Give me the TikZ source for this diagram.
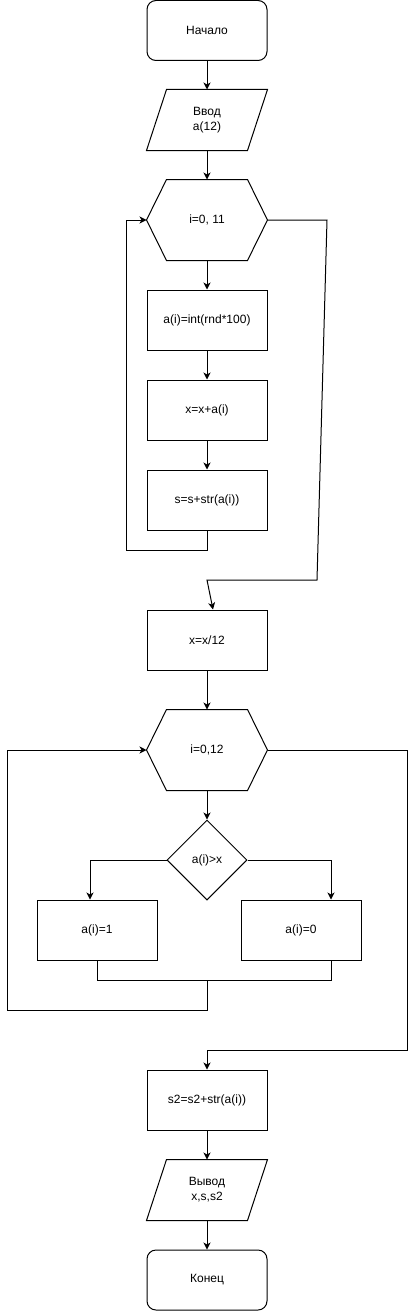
\documentclass[tikz,border=0pt]{standalone}
\usepackage{fontspec}
\setmainfont{Liberation Sans}
\usetikzlibrary{
	positioning,
	calc,
	arrows.meta,
	shapes.geometric
}

\begin{document}
\begin{tikzpicture}[
		x=1pt, y=-1pt,
		line width=1pt,
		font=\fontsize{12}{15}\selectfont,
		framed/.style={minimum width=120pt, minimum height=60pt, inner sep=0pt, align=center},
		process/.style={framed, draw},
		terminal/.style={process, rounded corners=9pt},
		io/.style={framed, append after command={\pgfextra{
			\draw ([xshift=20pt]\tikzlastnode.north west) -- (\tikzlastnode.north east)
				-- ([xshift=-20pt]\tikzlastnode.south east) -- (\tikzlastnode.south west) -- cycle;}}},
		cyclebox/.style={framed, minimum height=80pt, append after command={\pgfextra{
			\draw (\tikzlastnode.west) -- ([xshift=20pt]\tikzlastnode.north west)
				-- ([xshift=-20pt]\tikzlastnode.north east) -- (\tikzlastnode.east)
				-- ([xshift=-20pt]\tikzlastnode.south east) -- ([xshift=20pt]\tikzlastnode.south west) -- cycle;}}},
		decision/.style={diamond, draw, minimum width=80pt, minimum height=80pt, inner sep=0pt},
		flow/.style={-{Stealth[length=7pt, width=7pt, inset=2pt]}}
	]
		\useasboundingbox (0,0) rectangle (416,1311);

		\node[terminal] at(207,30.5) (start) {Начало};
		\node[io] at(207,120) (input) {Ввод\\a(12)};
		\node[cyclebox] at(207,220) (loopa) {i=0, 11};
		\node[process] at(207,320) (fill) {a(i)=int(rnd*100)};
		\node[process] at(207,410) (sum) {x=x+a(i)};
		\node[process] at(207,500) (concat) {s=s+str(a(i))};
		\node[process] at(207,640) (mean) {x=x/12};
		\node[cyclebox] at(207,750) (loopb) {i=0,12};
		\node[decision] at(207,860) (cmp) {a(i)>x};
		\node[process] at(97,930) (one) {a(i)=1};
		\node[process] at(301,930) (zero) {a(i)=0};
		\node[process] at(207,1100) (concatb) {s2=s2+str(a(i))};
		\node[io] at(207,1190) (output) {Вывод\\x,s,s2};
		\node[terminal] at(207,1280) (stop) {Конец};

		\coordinate (joinab) at(207,980);

		\begin{scope}[every path/.style={flow}]
			\draw (start) -- (input);
			\draw (input) -- (loopa);
			\draw (loopa) -- (fill);
			\draw (fill) -- (sum);
			\draw (sum) -- (concat);
			\draw (concat.south) -- ++(0,20) -| ([xshift=-20pt]loopa.west) -- (loopa.west);
			\draw (loopa.east) -- (327,220) -- (317,580) -- (207,580) -- ([xshift=6pt]mean.north);

			\draw (mean) -- (loopb);
			\draw (loopb) -- (cmp);
			\draw (cmp.west) -| ([xshift=-7pt]one.north);
			\draw (cmp.east) -| ([xshift=30pt]zero.north);
			\draw[-] (one.south) |- (joinab) -| ([xshift=30pt]zero.south);
			\draw (joinab) -- ++(0,30) -| (7,750) -- (loopb.west);
			\draw (loopb.east) -| (407,1050) -| (concatb.north);

			\draw (concatb) -- (output);
			\draw (output) -- (stop);
		\end{scope}

	\end{tikzpicture}
\end{document}
